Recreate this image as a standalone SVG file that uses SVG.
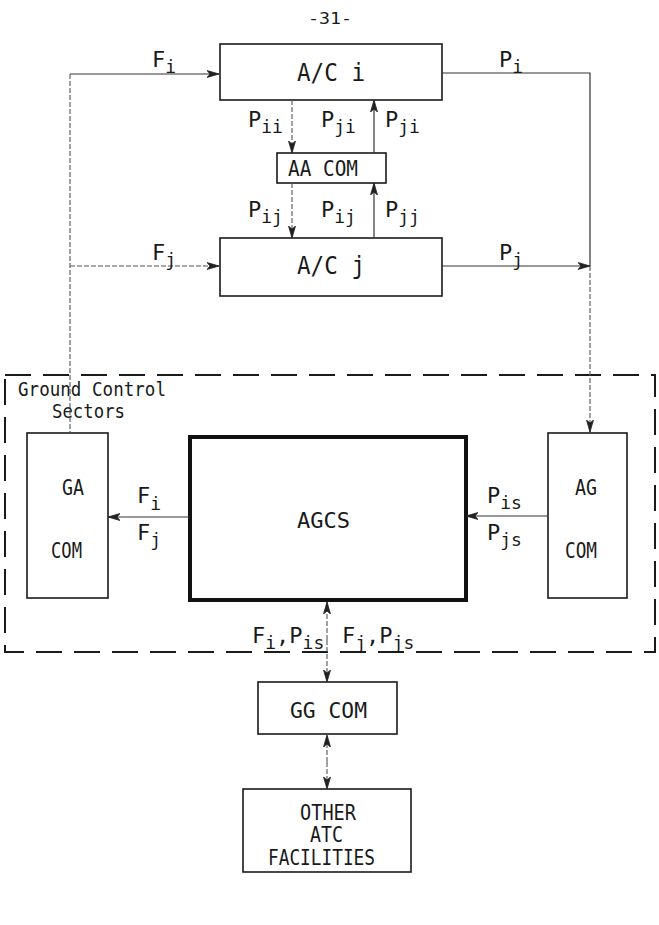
<svg xmlns="http://www.w3.org/2000/svg" width="659" height="925" viewBox="0 0 659 925">
<style>
text{font-family:"DejaVu Sans Mono","Liberation Mono",monospace;fill:#1a1a1a}
.t{font-size:24px}
.l{font-size:22px}
.s{font-size:21px}
.g{font-size:19px}
.sub{font-size:18px}
.box{fill:none;stroke:#1a1a1a;stroke-width:1.6}
.thick{fill:none;stroke:#111;stroke-width:4}
.ln{fill:none;stroke:#333;stroke-width:1.2}
.dl{fill:none;stroke:#555;stroke-width:1.1;stroke-dasharray:5 2}
.gb{fill:none;stroke:#1a1a1a;stroke-width:2;stroke-dasharray:26 12}
</style>
<defs>
<marker id="ah" viewBox="0 0 12 8" refX="12" refY="4" markerWidth="12" markerHeight="8" markerUnits="userSpaceOnUse" orient="auto">
<path d="M0,0.5 L12,4 L0,7.5 L3,4 Z" fill="#222" stroke="#222" stroke-width="0.8"/>
</marker>
</defs>
<text x="308" y="24" font-size="16" textLength="44" lengthAdjust="spacingAndGlyphs">-31-</text>

<g id="acI">
<rect class="box" x="220" y="44" width="222" height="56"/>
<text class="t" x="297" y="81" textLength="68" lengthAdjust="spacingAndGlyphs">A/C i</text>
</g>
<g id="aacom">
<rect class="box" x="277" y="153" width="109" height="30"/>
<text class="s" x="288" y="176" textLength="70" lengthAdjust="spacingAndGlyphs">AA COM</text>
</g>
<g id="acJ">
<rect class="box" x="220" y="238" width="222" height="58"/>
<text class="t" x="297" y="274" textLength="68" lengthAdjust="spacingAndGlyphs">A/C j</text>
</g>
<g id="groundControl">
<rect class="gb" x="5" y="375" width="650" height="277"/>
<text class="g" x="18" y="396" textLength="148" lengthAdjust="spacingAndGlyphs">Ground Control</text>
<text class="g" x="52" y="418" textLength="73" lengthAdjust="spacingAndGlyphs">Sectors</text>
</g>
<g id="gacom">
<rect class="box" x="27" y="433" width="81" height="165"/>
<text class="s" x="62" y="495" textLength="22" lengthAdjust="spacingAndGlyphs">GA</text>
<text class="s" x="51" y="558" textLength="31" lengthAdjust="spacingAndGlyphs">COM</text>
</g>
<g id="agcs">
<rect class="thick" x="190" y="437" width="276" height="163"/>
<text class="s" x="297" y="528" textLength="53" lengthAdjust="spacingAndGlyphs">AGCS</text>
</g>
<g id="agcom">
<rect class="box" x="548" y="433" width="79" height="165"/>
<text class="s" x="575" y="495" textLength="22" lengthAdjust="spacingAndGlyphs">AG</text>
<text class="s" x="565" y="558" textLength="32" lengthAdjust="spacingAndGlyphs">COM</text>
</g>
<g id="ggcom">
<rect class="box" x="258" y="682" width="139" height="52"/>
<text class="s" x="290" y="718" textLength="77" lengthAdjust="spacingAndGlyphs">GG  COM</text>
</g>
<g id="otherAtc">
<rect class="box" x="243" y="789" width="168" height="83"/>
<text class="s" x="300" y="820" textLength="56" lengthAdjust="spacingAndGlyphs">OTHER</text>
<text class="s" x="310" y="842" textLength="33" lengthAdjust="spacingAndGlyphs">ATC</text>
<text class="s" x="268" y="865" textLength="107" lengthAdjust="spacingAndGlyphs">FACILITIES</text>
</g>

<g id="connectors">
<path class="ln" d="M70,74 L219,74" marker-end="url(#ah)"/>
<path class="dl" d="M70,74 L70,433"/>
<path class="ln" d="M442,73 L590,73 L590,266"/>
<path class="dl" d="M590,266 L590,432" marker-end="url(#ah)"/>
<path class="dl" d="M70,266 L219,266" marker-end="url(#ah)"/>
<path class="ln" d="M442,266 L590,266" marker-end="url(#ah)"/>
<path class="dl" d="M292,100 L292,153" marker-end="url(#ah)"/>
<path class="ln" d="M374,153 L374,100" marker-end="url(#ah)"/>
<path class="dl" d="M292,183 L292,238" marker-end="url(#ah)"/>
<path class="ln" d="M374,238 L374,183" marker-end="url(#ah)"/>
<path class="ln" d="M190,517 L108,517" marker-end="url(#ah)"/>
<path class="ln" d="M548,516 L466,516" marker-end="url(#ah)"/>
<path class="dl" d="M327,640 L327,602" marker-end="url(#ah)"/>
<path class="dl" d="M327,640 L327,682" marker-end="url(#ah)"/>
<path class="dl" d="M327,762 L327,735" marker-end="url(#ah)"/>
<path class="dl" d="M327,762 L327,789" marker-end="url(#ah)"/>
</g>

<g id="labels">
<text class="l" x="152" y="67">F<tspan class="sub" dy="6">i</tspan></text>
<text class="l" x="499" y="67">P<tspan class="sub" dy="6">i</tspan></text>
<text class="l" x="248" y="127">P<tspan class="sub" dy="6">ii</tspan></text>
<text class="l" x="321" y="127">P<tspan class="sub" dy="6">ji</tspan></text>
<text class="l" x="385" y="127">P<tspan class="sub" dy="6">ji</tspan></text>
<text class="l" x="248" y="217">P<tspan class="sub" dy="6">ij</tspan></text>
<text class="l" x="321" y="217">P<tspan class="sub" dy="6">ij</tspan></text>
<text class="l" x="385" y="217">P<tspan class="sub" dy="6">jj</tspan></text>
<text class="l" x="152" y="260">F<tspan class="sub" dy="6">j</tspan></text>
<text class="l" x="499" y="260">P<tspan class="sub" dy="6">j</tspan></text>
<text class="l" x="137" y="503">F<tspan class="sub" dy="7">i</tspan></text>
<text class="l" x="137" y="540">F<tspan class="sub" dy="6">j</tspan></text>
<text class="l" x="487" y="503">P<tspan class="sub" dy="6">is</tspan></text>
<text class="l" x="487" y="540">P<tspan class="sub" dy="6">js</tspan></text>
<text class="l" x="252" y="643">F<tspan class="sub" dy="6">i</tspan><tspan dy="-6">,P</tspan><tspan class="sub" dy="6">is</tspan></text>
<text class="l" x="342" y="643">F<tspan class="sub" dy="6">j</tspan><tspan dy="-6">,P</tspan><tspan class="sub" dy="6">js</tspan></text>
</g>
</svg>
